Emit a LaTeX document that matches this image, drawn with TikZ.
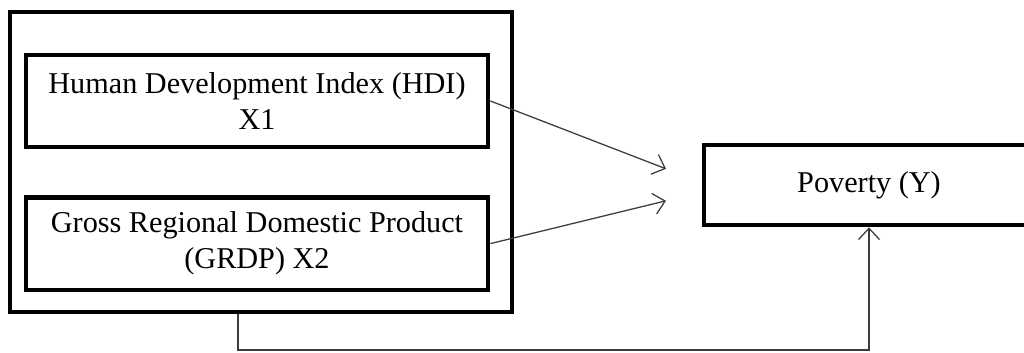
\documentclass[tikz,border=0pt]{standalone}
\usepackage{fontspec}
\setmainfont{Liberation Serif}
\usepackage{tikz}
\usetikzlibrary{arrows.meta, positioning, calc}
\definecolor{linegray}{RGB}{60, 60, 60}

\tikzset{
    varbox/.style={draw=black, line width=3.4pt, rectangle, align=center,
        inner sep=0pt, font=\fontsize{21.5}{25.6}\selectfont},
    link/.style={draw=linegray, line width=0.9pt,
        -{Straight Barb[length=8pt, width=15pt, line width=0.9pt]}}
}

\begin{document}
\begin{tikzpicture}
    % Page frame
    \useasboundingbox (0,0) rectangle (25.6,8.8);
    \clip (0,0) rectangle (25.6,8.8);
    % Independent variables
    \node[varbox, minimum width=12.55cm, minimum height=7.5cm] (group) at (6.525,4.75) {};
    \node[varbox, minimum width=11.55cm, minimum height=2.3cm] (hdi) at (6.425,6.275)
        {Human Development Index (HDI)\\X1};
    \node[varbox, minimum width=11.55cm, minimum height=2.32cm] (grdp) at (6.425,2.71)
        {Gross Regional Domestic Product\\(GRDP) X2};
    % Dependent variable
    \node[varbox, minimum width=8.25cm, minimum height=2.0cm] (poverty) at (21.725,4.175)
        {Poverty (Y)};
    % Arrow ends
    \coordinate (tipA) at (16.65,4.58);
    \coordinate (tipB) at (16.65,3.78);
    \coordinate (loopL) at (5.95,0.05);
    % Partial effects
    \draw[link] (hdi.east) -- (tipA);
    \draw[link] (grdp.east) -- (tipB);
    % Simultaneous effect
    \draw[link] (loopL |- group.south) -- (loopL) -| (poverty.south);
\end{tikzpicture}
\end{document}
